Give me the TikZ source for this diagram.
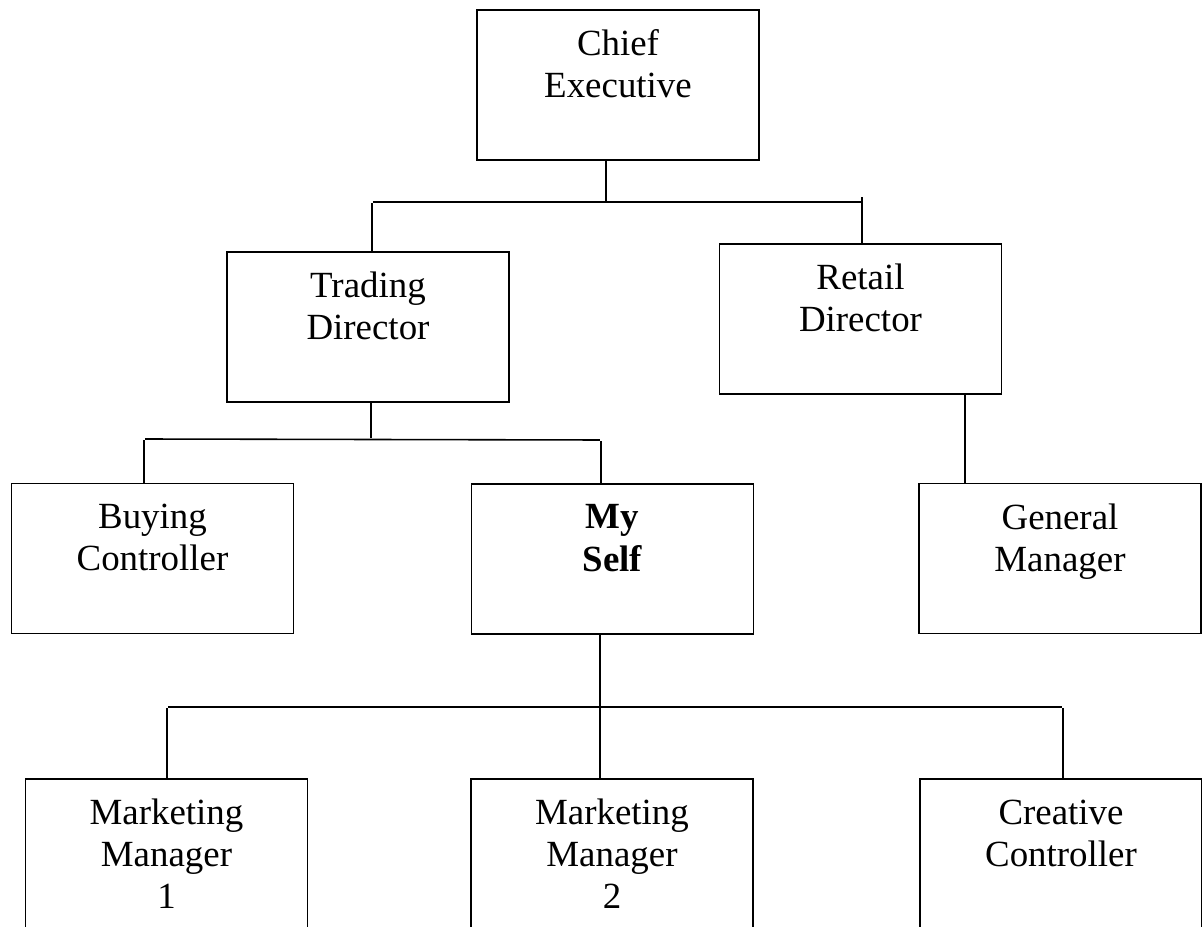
\documentclass[tikz,border=0pt]{standalone}
\usepackage{fontspec}
\setmainfont{Liberation Serif}
\usepackage{tikz}
\pgfdeclarelayer{edgelayer}
\pgfdeclarelayer{nodelayer}
\pgfsetlayers{edgelayer,nodelayer,main}
\tikzstyle{none}=[inner sep=0pt]
\tikzstyle{post}=[rectangle,fill=white,draw=black,line width=1.1pt,minimum width=5.64cm,minimum height=3cm,inner sep=0pt,align=center,font=\fontsize{21}{24}\selectfont]
\tikzstyle{branch}=[-,line width=0.9pt]

\begin{document}
\begin{tikzpicture}
	\useasboundingbox (0,0) rectangle (24.04,-18.54);
	\begin{pgfonlayer}{nodelayer}
		\node [style=post] (CE) at (12.36, -1.70) {Chief\\Executive\\~};
		\node [style=post] (TD) at (7.36, -6.54) {Trading\\Director\\~};
		\node [style=post] (RD) at (17.21, -6.38) {Retail\\Director\\~};
		\node [style=post] (BC) at (3.05, -11.17) {Buying\\Controller\\~};
		\node [style=post] (MS) at (12.25, -11.18) {\textbf{My}\\\textbf{Self}\\~};
		\node [style=post] (GM) at (21.20, -11.17) {General\\Manager\\~};
		\node [style=post] (MM1) at (3.33, -17.08) {Marketing\\Manager\\1};
		\node [style=post] (MM2) at (12.24, -17.08) {Marketing\\Manager\\2};
		\node [style=post] (CC) at (21.22, -17.08) {Creative\\Controller\\~};
		\node [style=none] (AL) at (7.44, -4.04) {};
		\node [style=none] (AM) at (12.12, -4.04) {};
		\node [style=none] (AR) at (17.24, -4.04) {};
		\node [style=none] (AT) at (17.24, -3.92) {};
		\node [style=none] (BL) at (2.88, -8.78) {};
		\node [style=none] (BM) at (7.42, -8.78) {};
		\node [style=none] (BR) at (12.02, -8.80) {};
		\node [style=none] (DM) at (19.30, -8.80) {};
		\node [style=none] (CL) at (3.34, -14.14) {};
		\node [style=none] (CM) at (12.00, -14.14) {};
		\node [style=none] (CR) at (21.26, -14.14) {};
	\end{pgfonlayer}
	\begin{pgfonlayer}{edgelayer}
		\draw [style=branch] (CE.south -| AM) to (AM);
		\draw [style=branch] (AL) to (AR);
		\draw [style=branch] (AL) to (AL |- TD.north);
		\draw [style=branch] (AT) to (AT |- RD.north);
		\draw [style=branch] (TD.south -| BM) to (BM);
		\draw [style=branch] (BL) to (BR);
		\draw [style=branch] (BL) to (BL |- BC.north);
		\draw [style=branch] (BR) to (BR |- MS.north);
		\draw [style=branch] (RD.south -| DM) to (DM |- GM.north);
		\draw [style=branch] (MS.south -| CM) to (CM |- MM2.north);
		\draw [style=branch] (CL) to (CR);
		\draw [style=branch] (CL) to (CL |- MM1.north);
		\draw [style=branch] (CR) to (CR |- CC.north);
	\end{pgfonlayer}
\end{tikzpicture}
\end{document}
